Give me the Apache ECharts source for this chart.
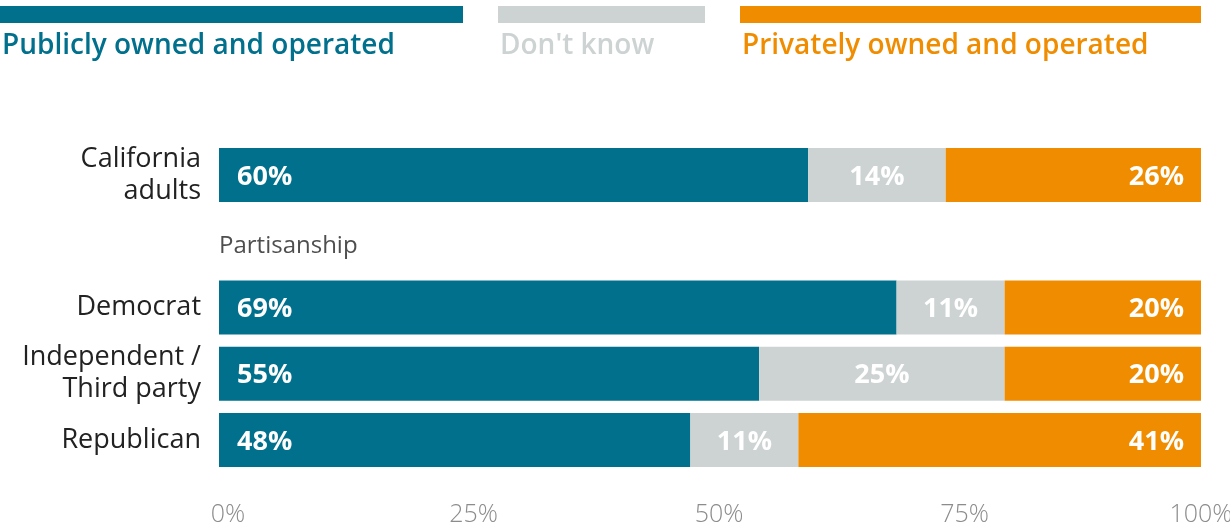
<!DOCTYPE html>
<html>
<head>
<meta charset="utf-8">
<script src="https://cdn.jsdelivr.net/npm/echarts@6/dist/echarts.min.js"></script>
<style>
  html, body { margin: 0; padding: 0; background: #fff; }
  #chart { width: 1230px; height: 529px; }
</style>
</head>
<body>
<div id="chart"></div>
<script>
// Survey rows (top to bottom); the empty row holds the "Partisanship" heading
const categories = ['California\nadults', '', 'Democrat', 'Independent /\nThird party', 'Republican'];
const publicValues = [60, null, 69, 55, 48];
const dontKnowValues = [14, null, 11, 25, 11];
const privateValues = [26, null, 20, 20, 41];
const seriesNames = ['Publicly owned and operated', "Don't know", 'Privately owned and operated'];
const tickLabels = ['0%', '25%', '50%', '75%', '100%'];
const groupHeading = 'Partisanship';

const COLORS = ['#00708d', '#cdd3d3', '#f08c00'];
const FONT = '"Open Sans", Lato, sans-serif';

const chart = echarts.init(document.getElementById('chart'), null, { renderer: 'canvas' });

function valueLabel(position, extra) {
  return Object.assign({
    show: true,
    position: position,
    color: '#fff',
    fontFamily: FONT,
    fontWeight: 'bold',
    fontSize: 27,
    offset: [0, 2],
    formatter: p => p.value == null ? '' : p.value + '%'
  }, extra || {});
}

const barCommon = {
  type: 'bar',
  stack: 'total',
  barWidth: 54,
  silent: true
};

// Legend: a swatch bar above each series name
const legendItems = [
  { x: 0, w: 463 },
  { x: 498, w: 207 },
  { x: 740, w: 461 }
];
const graphics = [];
legendItems.forEach((it, i) => {
  graphics.push({
    type: 'rect',
    left: it.x, top: 6,
    shape: { width: it.w, height: 17 },
    style: { fill: COLORS[i] },
    silent: true
  });
  graphics.push({
    type: 'text',
    left: it.x + 2, top: 32,
    style: {
      text: seriesNames[i],
      fill: i === 1 ? '#cdd3d3' : COLORS[i],
      font: '600 28px ' + FONT
    },
    silent: true
  });
});

chart.setOption({
  animation: false,
  grid: {
    left: 219, right: 29, top: 142, bottom: 56,
    containLabel: false,
    outerBoundsMode: 'none'
  },
  xAxis: {
    type: 'value',
    min: 0, max: 100, interval: 25,
    splitLine: { show: false },
    axisLine: { show: false },
    axisTick: { show: false },
    axisLabel: {
      margin: 29,
      formatter: v => {
        const t = tickLabels[Math.round(v / 25)];
        return v === 100 ? '{b|' + t + '}' : '{a|' + t + '}';
      },
      rich: {
        a: { fontFamily: FONT, fontSize: 25, fontWeight: 300, color: '#8c8c8c', padding: [0, 0, 0, 18] },
        b: { fontFamily: FONT, fontSize: 25, fontWeight: 300, color: '#8c8c8c' }
      }
    }
  },
  yAxis: {
    type: 'category',
    inverse: true,
    data: categories,
    axisLine: { show: false },
    axisTick: { show: false },
    axisLabel: {
      margin: 18,
      fontFamily: FONT,
      fontSize: 27,
      lineHeight: 32,
      color: '#222',
      align: 'right'
    }
  },
  series: [
    Object.assign({}, barCommon, {
      name: seriesNames[0],
      data: publicValues,
      itemStyle: { color: COLORS[0] },
      label: valueLabel('insideLeft', { distance: 18 })
    }),
    Object.assign({}, barCommon, {
      name: seriesNames[1],
      data: dontKnowValues,
      itemStyle: { color: COLORS[1] },
      label: valueLabel('inside')
    }),
    Object.assign({}, barCommon, {
      name: seriesNames[2],
      data: privateValues,
      itemStyle: { color: COLORS[2] },
      label: valueLabel('insideRight', { distance: 17 })
    }),
    {
      // group heading placed at the start of the empty row
      type: 'scatter',
      symbolSize: 0,
      silent: true,
      data: [[0, 1]],
      label: {
        show: true,
        position: 'right',
        distance: 0,
        offset: [0, 5],
        formatter: groupHeading,
        fontFamily: FONT,
        fontSize: 24,
        color: '#222'
      }
    }
  ],
  graphic: graphics
});
</script>
</body>
</html>
